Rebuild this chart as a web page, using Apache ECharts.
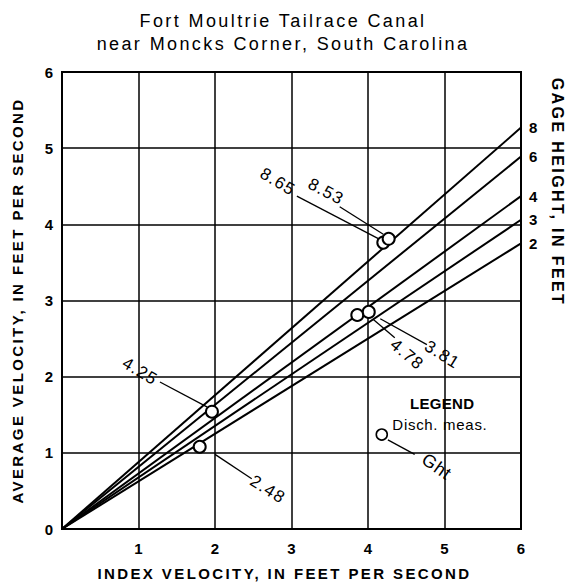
<!DOCTYPE html>
<html>
<head>
<meta charset="utf-8">
<script src="https://cdn.jsdelivr.net/npm/echarts@6/dist/echarts.min.js"></script>
<style>
html,body{margin:0;padding:0;background:#fff;}
#chart{width:566px;height:586px;}
</style>
</head>
<body>
<div id="chart"></div>
<script>
// Rating lines: average velocity at index velocity 0 and 6, per gage height
const gageHeights = ['8', '6', '4', '3', '2'];
const lineX = [0, 6];
const line8 = [0, 5.27];
const line6 = [0, 4.89];
const line4 = [0, 4.37];
const line3 = [0, 4.06];
const line2 = [0, 3.75];

// Discharge measurements
const measX = [4.20, 4.27, 3.86, 4.01, 1.96, 1.80];
const measY = [3.76, 3.81, 2.81, 2.85, 1.54, 1.08];
const measGht = ['8.65', '8.53', '4.78', '3.81', '4.25', '2.48'];

// Tick labels
const xTicks = [0, 1, 2, 3, 4, 5, 6];
const yTicks = [0, 1, 2, 3, 4, 5, 6];

// Annotation placement (data coordinates)
const labelPos = [[2.82, 4.56], [3.45, 4.43], [4.51, 2.29], [4.97, 2.29], [1.02, 2.07], [2.69, 0.52]];
const labelRot = [-31, -28, -40, -32, -31, -32];
const leaderFrom = [[3.07, 4.37], [3.63, 4.23], [4.07, 2.75], [4.16, 2.76], [1.28, 1.93], [2.00, 0.98]];
const leaderTo = [[4.16, 3.80], [4.20, 3.87], [4.35, 2.51], [4.77, 2.42], [1.90, 1.60], [2.48, 0.66]];

const FONT = '"Liberation Sans", Arial, Helvetica, sans-serif';
const chart = echarts.init(document.getElementById('chart'), null, {renderer: 'svg'});

const lines = [line8, line6, line4, line3, line2];
const series = [];
lines.forEach((vals, i) => {
  series.push({
    type: 'line', name: gageHeights[i], silent: true, animation: false,
    data: lineX.map((x, j) => [x, vals[j]]),
    symbol: 'none',
    lineStyle: {color: '#000', width: 2},
    endLabel: {show: true, formatter: gageHeights[i], color: '#000', fontFamily: FONT, fontSize: 15, fontWeight: 'bold', distance: 8}
  });
});
// leader lines
leaderFrom.forEach((p, i) => {
  series.push({
    type: 'line', silent: true, animation: false, symbol: 'none',
    data: [p, leaderTo[i]],
    lineStyle: {color: '#000', width: 1.3}
  });
});
// legend leader
series.push({
  type: 'line', silent: true, animation: false, symbol: 'none',
  data: [[4.26, 1.17], [4.61, 0.98]],
  lineStyle: {color: '#000', width: 1.3}
});
// measurements
series.push({
  type: 'scatter', silent: true, animation: false, z: 5,
  data: measX.map((x, i) => [x, measY[i]]),
  symbol: 'circle', symbolSize: 12,
  itemStyle: {color: '#fff', borderColor: '#000', borderWidth: 2, opacity: 1}
});
// legend symbol
series.push({
  type: 'scatter', silent: true, animation: false, z: 5,
  data: [[4.18, 1.24]],
  symbol: 'circle', symbolSize: 11,
  itemStyle: {color: '#fff', borderColor: '#000', borderWidth: 1.6, opacity: 1}
});
// measurement labels
series.push({
  type: 'scatter', silent: true, animation: false, symbolSize: 0, z: 6,
  itemStyle: {opacity: 1},
  data: labelPos.map((p, i) => ({
    value: p,
    label: {show: true, position: 'inside', formatter: measGht[i], rotate: labelRot[i],
      color: '#000', fontFamily: FONT, fontSize: 17}
  }))
});
// legend texts
series.push({
  type: 'scatter', silent: true, animation: false, symbolSize: 0, z: 6,
  itemStyle: {opacity: 1},
  data: [
    {value: [4.97, 1.65], label: {show: true, position: 'inside', formatter: 'LEGEND', color: '#000', fontFamily: FONT, fontSize: 15, fontWeight: 'bold'}},
    {value: [4.94, 1.37], label: {show: true, position: 'inside', formatter: 'Disch. meas.', color: '#000', fontFamily: FONT, fontSize: 15}},
    {value: [4.90, 0.82], label: {show: true, position: 'inside', formatter: 'Ght', rotate: -35, color: '#000', fontFamily: FONT, fontSize: 18}}
  ]
});

chart.setOption({
  animation: false,
  backgroundColor: '#fff',
  title: {
    text: 'Fort Moultrie Tailrace Canal\nnear Moncks Corner, South Carolina',
    left: 'center', top: 4,
    textStyle: {fontFamily: FONT, fontSize: 18, fontWeight: 'normal', color: '#000', lineHeight: 23}
  },
  grid: {left: 62, right: 45, top: 72, bottom: 53, show: true, borderColor: '#000', borderWidth: 2, backgroundColor: 'transparent'},
  xAxis: {
    type: 'value', min: 0, max: 6, interval: 1,
    name: 'INDEX VELOCITY, IN FEET PER SECOND', nameLocation: 'middle', nameGap: 37,
    nameTextStyle: {fontFamily: FONT, fontSize: 15, color: '#000', fontWeight: 'bold', padding: [0, 14, 0, 0]},
    axisLine: {show: true, lineStyle: {color: '#000', width: 2}},
    axisTick: {show: false},
    axisLabel: {color: '#000', fontFamily: FONT, fontSize: 15, fontWeight: 'bold', margin: 12,
      formatter: v => (v === 0 ? '' : String(xTicks[v]))},
    splitLine: {show: true, lineStyle: {color: '#000', width: 1.5}}
  },
  yAxis: {
    type: 'value', min: 0, max: 6, interval: 1,
    name: 'AVERAGE VELOCITY, IN FEET PER SECOND', nameLocation: 'middle', nameGap: 37,
    nameTextStyle: {fontFamily: FONT, fontSize: 15, color: '#000', fontWeight: 'bold'},
    axisLine: {show: true, lineStyle: {color: '#000', width: 2}},
    axisTick: {show: false},
    axisLabel: {color: '#000', fontFamily: FONT, fontSize: 15, fontWeight: 'bold', margin: 9,
      formatter: v => String(yTicks[v])},
    splitLine: {show: true, lineStyle: {color: '#000', width: 1.5}}
  },
  graphic: [{
    type: 'text',
    rotation: -Math.PI / 2,
    x: 557, y: 192,
    style: {text: 'GAGE HEIGHT, IN FEET', fontFamily: FONT, fontSize: 16, fontWeight: 'bold', fill: '#000', align: 'center', verticalAlign: 'middle'}
  }],
  series: series
});

// The reference typography is widely tracked; apply per-text letter spacing.
function track() {
  document.querySelectorAll('#chart svg text').forEach(t => {
    const s = t.textContent.trim();
    let ls = 0;
    if (/^[\d.]+$/.test(s)) ls = s.length > 1 ? 1.2 : 0;
    else if (s === 'LEGEND') ls = 0.3;
    else if (s === 'Disch. meas.') ls = 0.7;
    else if (s === 'Ght') ls = 1;
    else ls = 2.4;
    if (ls) t.style.letterSpacing = ls + 'px';
  });
}
track();
chart.on('finished', track);
</script>
</body>
</html>
